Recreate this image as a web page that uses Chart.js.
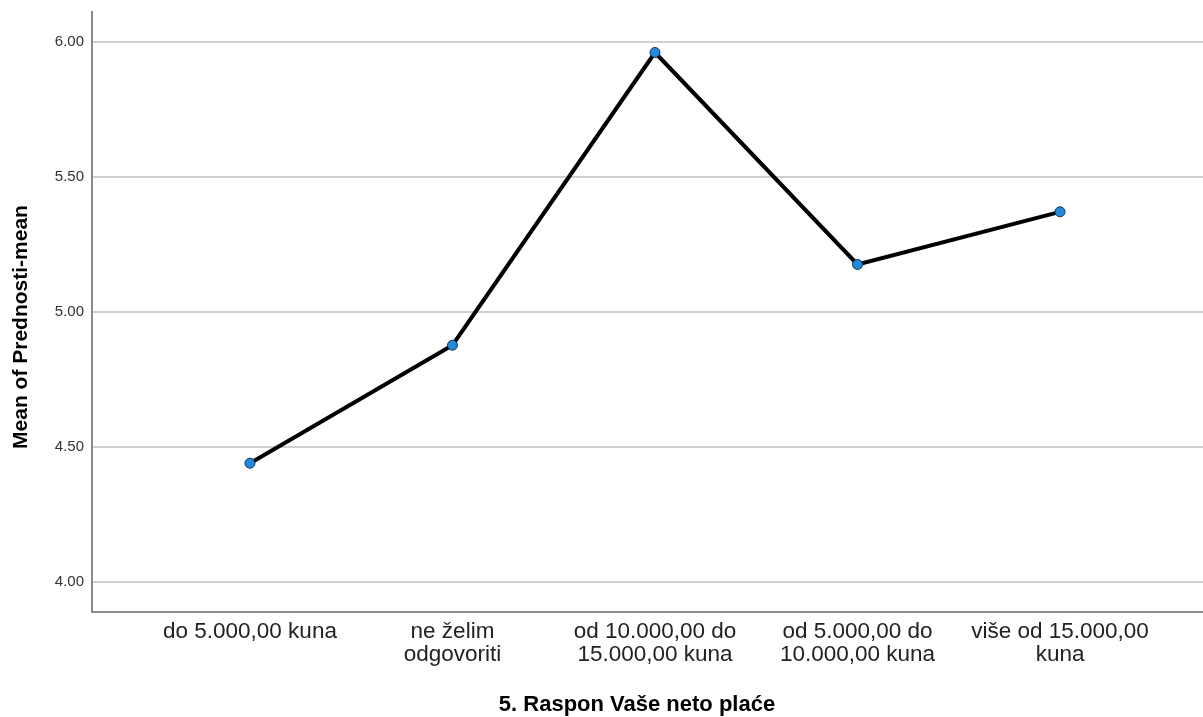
<!DOCTYPE html>
<html>
<head>
<meta charset="utf-8">
<script src="https://cdn.jsdelivr.net/npm/chart.js"></script>
<style>
  html, body { margin: 0; padding: 0; background: #fff; overflow: hidden; }
  #wrap { width: 1209px; height: 717px; position: relative; }
</style>
</head>
<body>
<div id="wrap"><canvas id="chart"></canvas></div>
<script>
// salary ranges (x categories) and mean of Prednosti-mean per range
const categories = [
    ['do 5.000,00 kuna'],
    ['ne želim', 'odgovoriti'],
    ['od 10.000,00 do', '15.000,00 kuna'],
    ['od 5.000,00 do', '10.000,00 kuna'],
    ['više od 15.000,00', 'kuna']
]
const means = [4.439, 4.876, 5.960, 5.175, 5.370]
const yTicks = [4.00, 4.50, 5.00, 5.50, 6.00]
const xTitle = '5. Raspon Vaše neto plaće'
const yTitle = 'Mean of Prednosti-mean'

const FONT = '"Liberation Sans", Arial, sans-serif'

// axis titles drawn by hand so they sit where SPSS put them
const axisTitles = {
    id: 'axisTitles',
    afterDraw(chart) {
        const ctx = chart.ctx
        ctx.save()
        ctx.fillStyle = '#000'
        ctx.font = 'bold 22px ' + FONT
        ctx.textAlign = 'center'
        ctx.textBaseline = 'middle'
        ctx.fillText(xTitle, 637, 705)
        ctx.translate(21, 327)
        ctx.rotate(-Math.PI / 2)
        ctx.font = 'bold 21px ' + FONT
        ctx.fillText(yTitle, 0, 0)
        ctx.restore()
    }
}

new Chart(document.getElementById('chart'), {
    type: 'line',
    data: {
        datasets: [{
            data: means.map((v, i) => ({x: i, y: v})),
            borderColor: '#000',
            borderWidth: 4,
            pointRadius: 5,
            pointHoverRadius: 5,
            pointBackgroundColor: '#1e8ae0',
            pointBorderColor: '#17324f',
            pointBorderWidth: 1,
            tension: 0
        }]
    },
    options: {
        responsive: true,
        maintainAspectRatio: false,
        animation: false,
        layout: {padding: {top: 12, right: 0, left: 0, bottom: 0}},
        plugins: {legend: {display: false}, tooltip: {enabled: false}},
        scales: {
            x: {
                type: 'linear',
                min: -0.78,
                max: 4.706,
                afterBuildTicks: s => { s.ticks = categories.map((c, i) => ({value: i})) },
                afterFit: s => { s.height = 105 },
                grid: {display: false, drawTicks: false},
                border: {display: true, color: '#8a8a8a', width: 2},
                ticks: {
                    autoSkip: false,
                    maxRotation: 0,
                    padding: 8,
                    color: '#222',
                    font: {family: FONT, size: 22.5, lineHeight: 1.03},
                    callback: v => categories[v]
                }
            },
            y: {
                min: 3.888,
                max: 6.110,
                afterBuildTicks: s => { s.ticks = yTicks.map(v => ({value: v})) },
                afterFit: s => { s.width = 92; s.paddingTop = 0; s.paddingBottom = 0 },
                grid: {color: '#cfcfcf', lineWidth: 2, drawTicks: false},
                border: {display: true, color: '#8a8a8a', width: 2},
                ticks: {
                    padding: 8,
                    color: '#333',
                    font: {family: FONT, size: 15},
                    callback: v => v.toFixed(2)
                }
            }
        }
    },
    plugins: [axisTitles]
})
</script>
</body>
</html>
